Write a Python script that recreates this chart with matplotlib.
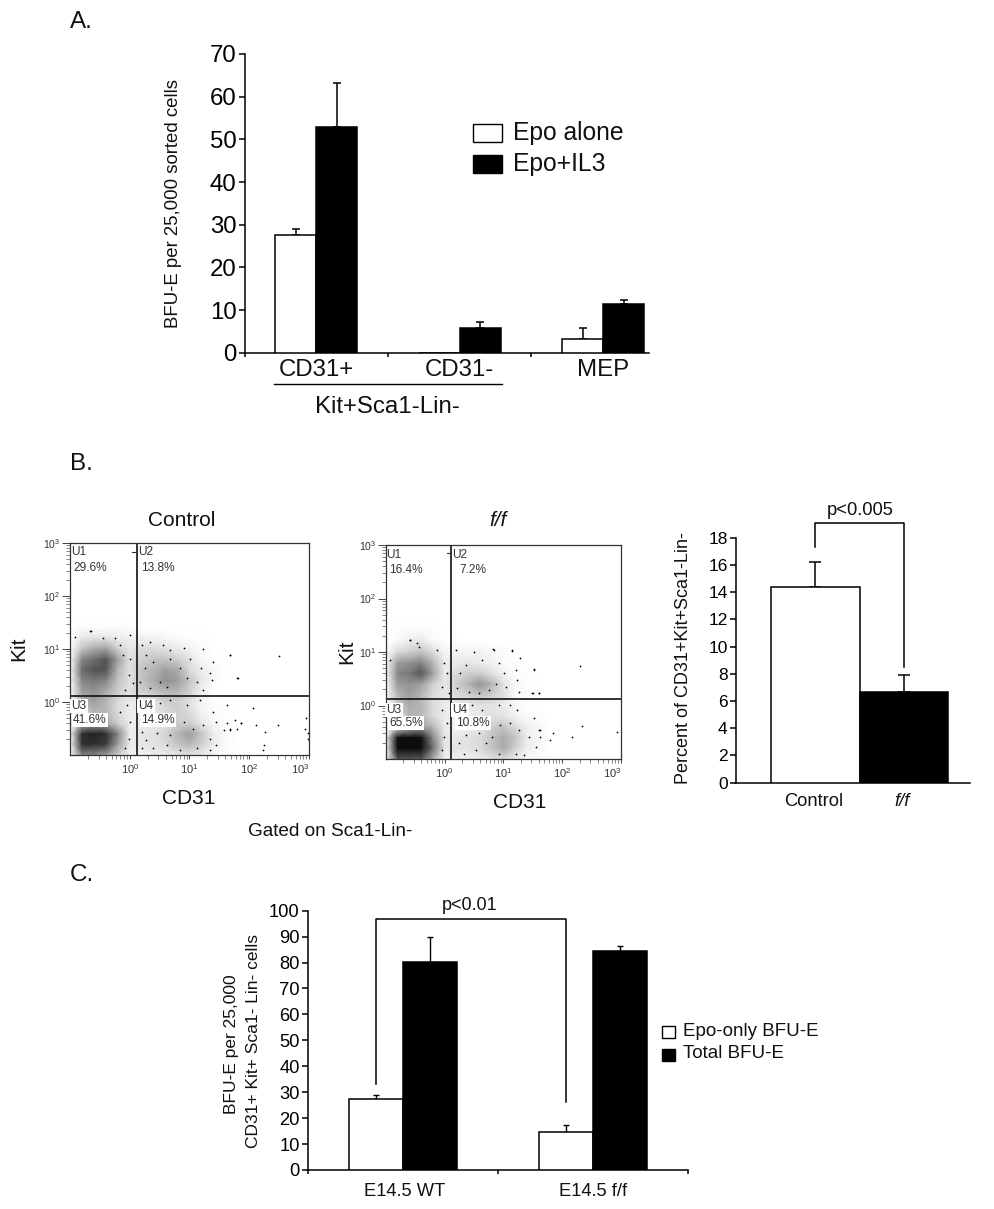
import numpy as np
import matplotlib
matplotlib.use('Agg')
import matplotlib.pyplot as plt
from matplotlib.patches import Rectangle

plt.rcParams['font.family'] = ['Liberation Sans', 'DejaVu Sans']
plt.rcParams['mathtext.default'] = 'regular'

W, H = 995, 1209

# panel A
a_groups = ['CD31+', 'CD31-', 'MEP']
a_epo = [27.5, 0, 3.3]
a_epo_err = [1.5, 0, 2.4]
a_il3 = [52.8, 5.7, 11.4]
a_il3_err = [10.5, 1.5, 0.9]
a_yticks = [0, 10, 20, 30, 40, 50, 60, 70]

# panel B bars
b_groups = ['Control', 'f/f']
b_vals = [14.4, 6.7]
b_errs = [1.8, 1.2]
b_yticks = [0, 2, 4, 6, 8, 10, 12, 14, 16, 18]

# panel C
c_groups = ['E14.5 WT', 'E14.5 f/f']
c_epo = [27.4, 14.5]
c_epo_err = [1.5, 2.9]
c_total = [80.3, 84.6]
c_total_err = [9.5, 1.9]
c_yticks = [0, 10, 20, 30, 40, 50, 60, 70, 80, 90, 100]

# flow plots: how dark the dots look, read by eye on a 0.2 decade grid
# rows are Kit from 10^1.6 down to 10^-1, columns are CD31 from 10^-1 upward
control_density = [
    [0],
    [0, .02, .02, .02, .02, .02],
    [0, .1, .12, .12, .08, .05, .06, .05, .03, .02, .01, .01],
    [0, .25, .35, .4, .2, .1, .15, .15, .12, .08, .05, .02],
    [0, .5, .6, .7, .4, .12, .2, .25, .25, .2, .12, .03, .01],
    [0, .6, .7, .7, .3, .12, .25, .3, .4, .35, .15, .07, .03],
    [0, .5, .55, .5, .25, .12, .25, .35, .45, .4, .25, .1, .02],
    [0, .4, .45, .35, .2, .12, .2, .25, .3, .3, .2, .06, .01],
    [0, .3, .4, .3, .15, .08, .1, .1, .2, .2, .12, .04, .01],
    [0, .15, .3, .3, .15, .08, .07, .1, .15, .2, .15, .05, .02, .01],
    [0, .3, .4, .35, .2, .08, .07, .08, .12, .2, .2, .1, .03, .01],
    [0, .85, .9, .85, .5, .08, .1, .12, .18, .3, .4, .25, .08, .02],
    [0, .85, .85, .8, .4, .08, .1, .12, .15, .25, .3, .2, .08, .02],
    [0, .5, .5, .4, .2, .05, .05, .07, .08, .1, .12, .08, .03, .01],
]
ff_density = [
    [0],
    [0, .01, .02, .02, .01],
    [0, .03, .08, .1, .03, .01, .01],
    [0, .15, .2, .25, .15, .04, .05, .04, .05, .03, .02],
    [0, .4, .45, .5, .3, .08, .08, .1, .08, .05, .02, .01],
    [0, .5, .55, .7, .4, .08, .15, .2, .2, .12, .05, .01, .01],
    [0, .4, .45, .4, .2, .1, .2, .3, .45, .3, .12, .03, .01],
    [0, .3, .4, .3, .15, .1, .15, .2, .25, .2, .12, .02, .01],
    [0, .2, .35, .3, .15, .08, .07, .08, .12, .12, .08, .03, .01],
    [0, .1, .3, .3, .15, .08, .05, .07, .08, .12, .12, .05, .02, .01],
    [0, .1, .3, .4, .3, .08, .06, .06, .1, .2, .25, .15, .06, .03],
    [0, .98, 1, .98, .5, .1, .1, .12, .15, .25, .35, .25, .08, .04],
    [0, 1, 1, 1, .6, .1, .12, .12, .15, .25, .35, .2, .07, .03],
    [0, .7, .7, .7, .35, .05, .06, .06, .08, .12, .15, .08, .02, .01],
]

control_log_cd31 = [
    1.67, 2.50, 1.80, 2.06, 1.87, 1.76, 2.48, 2.12, 2.95, 2.93, 2.98, 2.98, 2.26, 2.24, 2.23, 1.67, 1.62, -.67,
    -.65, -.92, 0, -.44, .34, .67, 1.23, 1.40, 1.68, 1.82, 1.34, 1.37, 1.20, 1.01, .90, .56, .28, .26, .39, .67,
    .84, .95, 1.12, 1.23, .34, .51, .62, .17, .20, 0, -.02, .06, -.08, -.16, -.11, -.25,
    .51, .67, .95, 1.18, 1.40, 1.62, 1.87, 1.79, 1.68, 1.57, 1.45, 1.34, 1.45, 1.23, 1.06, .90, .67, .45, .28, .39,
    .62, .84, 1.12, 1.34, .20, .20, -.05, 0, -.02, -.08, -.16,
]
control_log_kit = [
    .89, .87, .45, -.12, -.40, -.34, -.43, -.43, -.31, -.50, -.59, -.69, -.56, -.81, -.91, -.53, -.40, 1.34,
    1.34, 1.23, 1.26, 1.20, 1.14, .98, 1.00, .76, .89, .45, .54, .42, .64, .82, 1.01, 1.08, .89, .64, .76, .82,
    .64, .45, .38, .23, .26, .38, .29, .38, 1.08, .82, .51, .35, .23, 1.08, .89, 1.20,
    -.02, .04, -.06, .04, -.18, -.06, -.40, -.50, -.50, -.53, -.37, -.69, -.81, -.43, -.50, -.37, -.62, -.59, -.72, -.87,
    -.81, -.91, -.87, -.91, -.56, -.87, -.06, -.37, -.69, -.87, -.18,
]
ff_log_cd31 = [
    2.30, 1.52, 1.60, 1.51, 2.33, 2.16, 2.93, 1.84, 1.62, -.59, .83, 1.14,
    -.46, -.58, -.43, -.92, .19, .50, .84, 1.15, 1.29, 1.52, 1.21, 1.24, 1.27, 1.49, 1.61, .93, 1.01, 1.04, .87, .64,
    .36, .27, .22, .42, .59, .76, -.01, .05, -.04, .08, -.12,
    .47, .64, .93, 1.12, 1.24, 1.52, 1.61, 1.63, 1.80, 1.55, 1.44, 1.27, 1.12, .95, .81, .59, .36, .25, .33, .53,
    .70, .93, 1.21, 1.35, -.04, .05, -.01, -.04,
]
ff_log_kit = [
    .73, .68, .23, .23, -.39, -.59, -.50, -.52, -.45, 1.23, 1.06, 1.03,
    1.16, 1.22, 1.10, .85, 1.04, 1.00, 1.04, 1.02, .88, .66, .66, .48, .26, .23, .24, .79, .60, .35, .41, .85,
    .76, .60, .32, .26, .23, .29, .79, .60, .35, .23, 1.04,
    .01, -.08, .01, .01, -.08, -.24, -.46, -.58, -.65, -.77, -.58, -.46, -.33, -.36, -.58, -.52, -.55, -.71, -.90, -.83,
    -.71, -.90, -.90, -.93, -.08, -.33, -.58, -.83,
]

control_labels = ['U1', '29.6%', 'U2', '13.8%', 'U3', '41.6%', 'U4', '14.9%']
ff_labels = ['U1', '16.4%', 'U2', '7.2%', 'U3', '65.5%', 'U4', '10.8%']


def px_axes(x0, y0, x1, y1):
    # box given in image pixels, y from the top
    return fig.add_axes([x0 / W, 1 - y1 / H, (x1 - x0) / W, (y1 - y0) / H])


def px_text(x, y, s, size, ha='center', va='center', **kw):
    return fig.text(x / W, 1 - y / H, s, fontsize=size, ha=ha, va=va, color=kw.pop('color', '#111111'), **kw)


def bar_style(ax, yticks, size):
    for side in ['top', 'right']:
        ax.spines[side].set_visible(False)
    for side in ['left', 'bottom']:
        ax.spines[side].set_linewidth(1.1)
    ax.set_yticks(yticks)
    ax.tick_params(axis='y', labelsize=size, length=4, width=1.1, pad=2)
    ax.patch.set_alpha(0)


def flow_plot(box, density, log_cd31, log_kit, gate, dash, labels, label_pos):
    ax = px_axes(*box)
    grid = np.zeros((14, 21))
    for i, row in enumerate(density):
        grid[i, :len(row)] = row
    xs = 10.0 ** np.linspace(-1, 3, 21)
    ys = 10.0 ** np.linspace(1.6, -1, 14)
    ax.pcolormesh(xs, ys, grid, cmap='gray_r', vmin=0, vmax=1.05, shading='gouraud', rasterized=True)
    ax.scatter(10.0 ** np.array(log_cd31), 10.0 ** np.array(log_kit), s=1.6, c='k', linewidths=0)
    ax.set_xscale('log')
    ax.set_yscale('log')
    ax.set_xlim(0.1, 1000)
    ax.set_ylim(0.1, 1000)
    ax.axvline(gate, color='#111111', lw=1.2)
    ax.axhline(gate, color='#111111', lw=1.2)
    ax.plot([dash[0], gate], [dash[1], dash[1]], color='#333333', lw=0.8)
    ax.set_xticks([1, 10, 100, 1000])
    ax.set_yticks([1, 10, 100, 1000])
    ax.tick_params(which='major', axis='x', labelsize=8, length=3, width=.7, pad=2, color='#444444', labelcolor='#333333')
    ax.tick_params(which='major', axis='y', labelsize=7.5, length=6, width=.7, pad=1, color='#444444', labelcolor='#333333')
    ax.tick_params(which='minor', length=3, width=.5, color='#555555')
    ax.get_xticklabels()[-1].set_ha('right')
    for s in ax.spines.values():
        s.set_linewidth(.9)
        s.set_color('#333333')
    for s, (x, y) in zip(labels, label_pos):
        t = px_text(x, y, s, 8.6, ha='left', color='#333333')
        if s.endswith('%') and y > 700 or s in ('U3', 'U4'):
            t.set_bbox(dict(facecolor='white', edgecolor='none', pad=1))
    return ax


fig = plt.figure(figsize=(W / 100, H / 100), dpi=100)

px_text(70, 22, 'A.', 17.5, ha='left')
px_text(70, 464, 'B.', 17.5, ha='left')
px_text(70, 875, 'C.', 17.5, ha='left')

# ---- A
ax = px_axes(245, 54, 649, 352.7)
bw = 0.286
x = np.arange(3)
ax.bar(x - bw / 2, a_epo, bw, color='white', edgecolor='black', lw=1.1, zorder=3)
ax.bar(x + bw / 2, a_il3, bw, color='black', edgecolor='black', lw=1.1, zorder=3)
for i in range(3):
    if a_epo_err[i] > 0:
        ax.errorbar(x[i] - bw / 2, a_epo[i], yerr=[[0], [a_epo_err[i]]], color='k', lw=1.1, capsize=2.6, capthick=1.1, zorder=2)
    ax.errorbar(x[i] + bw / 2, a_il3[i], yerr=[[0], [a_il3_err[i]]], color='k', lw=1.1, capsize=2.6, capthick=1.1, zorder=2)
ax.set_xlim(-0.495, 2.32)
ax.set_ylim(0, 70)
bar_style(ax, a_yticks, 17.3)
ax.set_xticks([-0.495, 0.5, 1.5])
ax.set_xticklabels([])
ax.tick_params(axis='x', length=3, width=1.1)
px_text(173.5, 203, 'BFU-E per 25,000 sorted cells', 13.4, rotation=90)
for name, cx in zip(a_groups, [316, 459, 603]):
    px_text(cx, 370, name, 17.3)
fig.add_artist(plt.Line2D([274 / W, 502 / W], [1 - 384 / H, 1 - 384 / H], color='k', lw=1))
px_text(387, 407, 'Kit+Sca1-Lin-', 17.3)
fig.add_artist(Rectangle((472.7 / W, 1 - 142 / H), 29 / W, 18 / H, transform=fig.transFigure, fc='white', ec='k', lw=1))
fig.add_artist(Rectangle((472.7 / W, 1 - 173 / H), 29 / W, 18 / H, transform=fig.transFigure, fc='k', ec='k', lw=1))
px_text(512.7, 133, 'Epo alone', 17.7, ha='left')
px_text(512.7, 164, 'Epo+IL3', 17.7, ha='left')

# ---- B flow plots
flow_plot((70, 543, 309, 755), control_density, control_log_cd31, control_log_kit, 1.32, (1.07, 685), control_labels,
          [(71, 552), (73, 568), (138, 552), (141, 568), (71, 706), (73, 720), (138, 706), (141, 720)])
flow_plot((385.7, 545, 621, 759), ff_density, ff_log_cd31, ff_log_kit, 1.31, (1.09, 700), ff_labels,
          [(386, 555), (389, 570), (452, 555), (459, 570), (386, 710), (389, 723), (452, 710), (456, 723)])
px_text(182, 520, 'Control', 15)
px_text(498, 520, 'f/f', 15, style='italic')
px_text(19, 649, 'Kit', 15, rotation=90)
px_text(347, 652, 'Kit', 15, rotation=90)
px_text(189, 799, 'CD31', 15)
px_text(520, 802, 'CD31', 15)
px_text(248, 832, 'Gated on Sca1-Lin-', 13.7, ha='left')

# ---- B bars
ax = px_axes(736, 537.7, 970, 782.7)
ax.bar([0, 1], b_vals, 1.0, color=['white', 'black'], edgecolor='black', lw=1.1, zorder=3)
for i in range(2):
    ax.errorbar(i, b_vals[i], yerr=[[0], [b_errs[i]]], color='k', lw=1.1, capsize=4.4, capthick=1.1, zorder=2)
ax.set_xlim(-0.894, 1.744)
ax.set_ylim(0, 18)
bar_style(ax, b_yticks, 12.5)
ax.set_xticks([])
ax.plot([0, 0, 1, 1], [17.34, 19.1, 19.1, 8.47], color='k', lw=1.1, clip_on=False)
px_text(683, 658, 'Percent of CD31+Kit+Sca1-Lin-', 13, rotation=90)
px_text(860.7, 510.7, 'p<0.005', 13.2)
px_text(814, 801.7, b_groups[0], 13.2)
px_text(901.7, 801.7, b_groups[1], 13.2, style='italic')

# ---- C
ax = px_axes(308, 910.7, 688, 1170)
bw = 0.284
x = np.arange(2)
ax.bar(x - bw / 2, c_epo, bw, color='white', edgecolor='black', lw=1.1, zorder=3)
ax.bar(x + bw / 2, c_total, bw, color='black', edgecolor='black', lw=1.1, zorder=3)
for i in range(2):
    ax.errorbar(x[i] - bw / 2, c_epo[i], yerr=[[0], [c_epo_err[i]]], color='k', lw=1, capsize=2.2, capthick=1, zorder=2)
    ax.errorbar(x[i] + bw / 2, c_total[i], yerr=[[0], [c_total_err[i]]], color='k', lw=1, capsize=2.2, capthick=1, zorder=2)
ax.set_xlim(-0.5, 1.5)
ax.set_ylim(0, 100)
bar_style(ax, c_yticks, 13.2)
ax.set_xticks([-0.5, 0.5, 1.5])
ax.set_xticklabels([])
ax.tick_params(axis='x', length=3, width=1.1)
ax.plot([-bw / 2, -bw / 2, 1 - bw / 2, 1 - bw / 2], [33.2, 96.8, 96.8, 26.3], color='k', lw=1.1, zorder=4)
px_text(232, 1044, 'BFU-E per 25,000', 12.5, rotation=90)
px_text(254, 1041, 'CD31+ Kit+ Sca1- Lin- cells', 12.5, rotation=90)
px_text(470, 905, 'p<0.01', 13)
px_text(405, 1192, c_groups[0], 13.2)
px_text(593, 1192, c_groups[1], 13.2)
fig.add_artist(Rectangle((662 / W, 1 - 1038 / H), 13 / W, 12.5 / H, transform=fig.transFigure, fc='white', ec='k', lw=1))
fig.add_artist(Rectangle((662 / W, 1 - 1061 / H), 13 / W, 12.5 / H, transform=fig.transFigure, fc='k', ec='k', lw=1))
px_text(683, 1032, 'Epo-only BFU-E', 13.5, ha='left')
px_text(683, 1054, 'Total BFU-E', 13.5, ha='left')

fig.savefig('out.png', dpi=100)
